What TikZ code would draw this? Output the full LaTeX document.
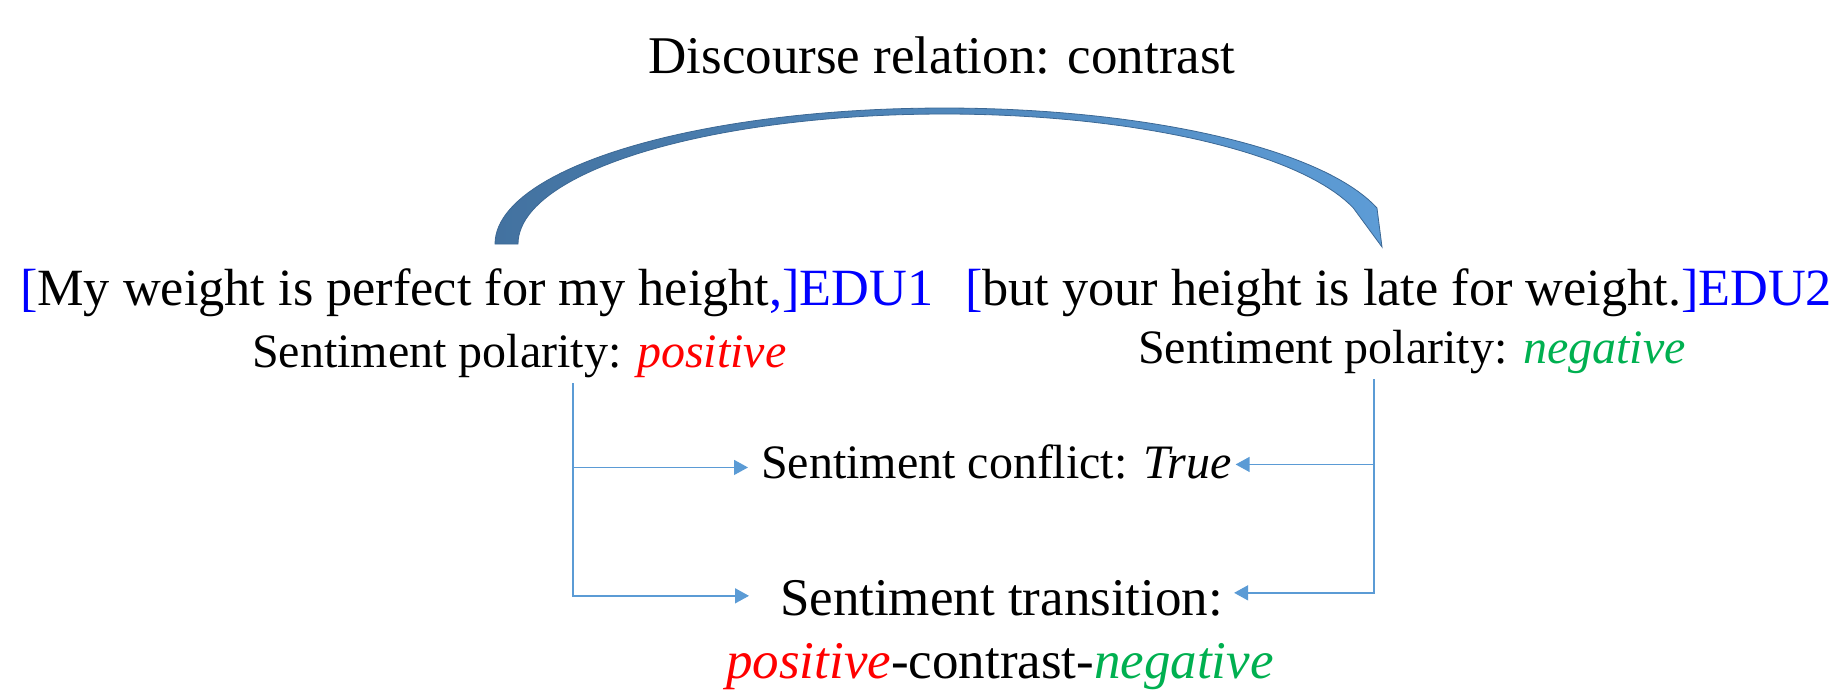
\documentclass[tikz,border=0pt]{standalone}
\usepackage{fontspec}
\setmainfont{Liberation Serif}
\usetikzlibrary{arrows.meta}
\definecolor{edublue}{RGB}{0,0,255}
\definecolor{posred}{RGB}{255,0,0}
\definecolor{neggreen}{RGB}{0,176,80}
\definecolor{connblue}{RGB}{91,155,213}
\definecolor{arcdark}{RGB}{67,114,160}
\definecolor{arclight}{RGB}{93,156,214}
\definecolor{arcedge}{RGB}{60,104,148}
\begin{document}
\begin{tikzpicture}[x=1pt,y=-1pt,
  txt/.style={inner sep=0pt, outer sep=0pt},
  titlefont/.style={txt, font=\fontsize{53}{60}\selectfont},
  bigfont/.style={txt, font=\fontsize{52.3}{60}\selectfont},
  midfont/.style={txt, font=\fontsize{48}{56}\selectfont},
  conn/.style={draw=connblue, line width=1.5pt, -{Triangle[length=14pt,width=15pt]}}]
\useasboundingbox (0,0) rectangle (1840,689);

% texts
\node[titlefont, anchor=base] (title) at (942,73) {Discourse relation: contrast};
\node[bigfont, anchor=base west] (edu1) at (20,305) {\textcolor{edublue}{[}My weight is perfect for my height\textcolor{edublue}{,]EDU1}};
\node[bigfont, anchor=base west] (edu2) at (965,305) {\textcolor{edublue}{[}but your height is late for weight.\textcolor{edublue}{]EDU2}};
\node[midfont, anchor=base west] (pol1) at (252,367) {Sentiment polarity: \textcolor{posred}{\itshape positive}};
\node[midfont, anchor=base west] (pol2) at (1138,363) {Sentiment polarity: \textcolor{neggreen}{\itshape negative}};
\node[midfont, anchor=base west] (conf) at (761,478) {Sentiment conflict: \textit{True}};
\node[titlefont, anchor=base west] (trans) at (780,615) {Sentiment transition:};
\node[titlefont, anchor=base] (trans2) at (1000,678) {\textcolor{posred}{\itshape positive}-contrast-\textcolor{neggreen}{\itshape negative}};

% curved block arrow
\shade[draw=arcedge, line width=0.8pt, left color=arcdark, right color=arclight]
  plot[domain=180:344.65, samples=90] ({944+449*cos(\x)},{244+136*sin(\x)})
  -- (1382,247)
  -- plot[domain=0:163.92, samples=90] ({944+426*cos(343.92-\x)},{244+130*sin(343.92-\x)})
  -- cycle;

% connectors
\coordinate (l0) at (573,383);
\coordinate (r0) at (1374,379);
\draw[conn] (l0) |- ([xshift=-13pt,yshift=-6pt]conf.west);
\draw[conn] (l0) |- ([xshift=-31pt,yshift=2pt]trans.west);
\draw[conn] (r0) |- ([xshift=4pt,yshift=-3pt]conf.east);
\draw[conn] (r0) |- ([xshift=11pt,yshift=5pt]trans.east);
\end{tikzpicture}
\end{document}
